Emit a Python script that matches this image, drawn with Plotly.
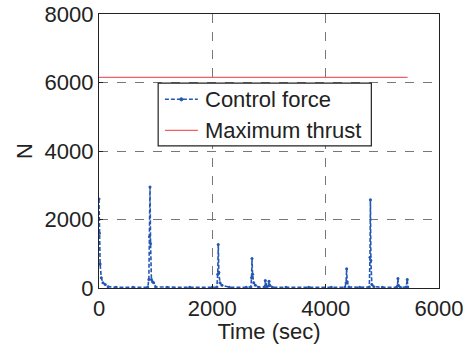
import plotly.graph_objects as go

# Control force time history (sec, N)
time_s = [0, 8, 20, 40, 70, 110, 160, 300, 600, 860, 880, 890, 900, 910, 925, 945, 965, 1000, 1200,
          1600, 2000, 2080, 2095, 2105, 2115, 2135, 2170, 2300, 2600, 2680, 2692, 2700, 2710,
          2730, 2760, 2820, 2920, 2935, 2945, 2960, 2990, 3000, 3012, 3060, 3300, 3700, 4100,
          4340, 4360, 4370, 4380, 4410, 4600, 4770, 4782, 4790, 4798, 4815, 4850, 5000, 5250,
          5268, 5275, 5285, 5320, 5420, 5440, 5448]
force_n = [2600, 1600, 700, 300, 150, 100, 40, 20, 20, 20, 250, 1500, 2950, 1300, 250, 180, 150, 30, 20,
           20, 20, 30, 400, 1270, 450, 150, 80, 20, 20, 30, 300, 860, 400,
           150, 80, 20, 30, 220, 120, 40, 60, 200, 80, 20, 20, 20, 20,
           20, 150, 560, 180, 30, 20, 30, 900, 2580, 800, 100, 40, 20, 20,
           60, 280, 70, 20, 30, 250, 30]

# Thruster limit
thrust_time = [0, 5445]
thrust_n = [6150, 6150]

x_ticks = [0, 2000, 4000, 6000]
y_ticks = [0, 2000, 4000, 6000, 8000]

series_names = ["Control force", "Maximum thrust"]
BLUE = "#2456b4"
RED = "#f06068"
INK = "#222"
FS = 22
SHORT_DASH = "4px,2px"

fig = go.Figure()
fig.add_trace(go.Scatter(
    x=time_s, y=force_n, name=series_names[0], mode="lines+markers",
    line=dict(color=BLUE, width=1.6, dash=SHORT_DASH),
    marker=dict(size=3, color=BLUE), showlegend=False,
))
fig.add_trace(go.Scatter(
    x=thrust_time, y=thrust_n, name=series_names[1], mode="lines",
    line=dict(color=RED, width=1.2), showlegend=False,
))

axis_common = dict(
    showline=True, linecolor=INK, linewidth=1.2, mirror=True,
    ticks="inside", ticklen=4, tickcolor=INK,
    showgrid=True, gridcolor="#777", griddash="dash", gridwidth=1,
    zeroline=False, tickfont=dict(size=FS, color=INK), automargin=False,
)

fig.update_xaxes(range=[0, 6000], tickvals=x_ticks, ticktext=[str(v) for v in x_ticks],
                 title=dict(text="Time (sec)", font=dict(size=FS, color=INK), standoff=0),
                 **axis_common)
fig.update_yaxes(range=[0, 8000], tickvals=y_ticks, ticktext=[str(v) for v in y_ticks],
                 title=dict(text="N", font=dict(size=FS, color=INK), standoff=5),
                 **axis_common)

# Boxed legend drawn in paper coordinates
box = dict(x0=0.174, x1=0.801, y0=0.519, y1=0.7475)
rows_y = [0.6886, 0.5756]
line_x = (0.1938, 0.2907)
text_x = 0.3054
fig.add_shape(type="rect", xref="paper", yref="paper", **box,
              line=dict(color=INK, width=1.2), fillcolor="white", layer="above")
fig.add_shape(type="line", xref="paper", yref="paper",
              x0=line_x[0], x1=line_x[1], y0=rows_y[0], y1=rows_y[0],
              line=dict(color=BLUE, width=1.6, dash=SHORT_DASH), layer="above")
mid_x = (line_x[0] + line_x[1]) / 2
dot_w, dot_h = 1.6 / 340.5, 1.6 / 274.5
fig.add_shape(type="circle", xref="paper", yref="paper",
              x0=mid_x - dot_w, x1=mid_x + dot_w, y0=rows_y[0] - dot_h, y1=rows_y[0] + dot_h,
              line=dict(color=BLUE, width=1), fillcolor=BLUE, layer="above")
fig.add_shape(type="line", xref="paper", yref="paper",
              x0=line_x[0], x1=line_x[1], y0=rows_y[1], y1=rows_y[1],
              line=dict(color=RED, width=1.2), layer="above")
for name, yy in zip(series_names, rows_y):
    fig.add_annotation(x=text_x, y=yy, xref="paper", yref="paper", text=name,
                       showarrow=False, xanchor="left", yanchor="middle",
                       font=dict(size=FS, color=INK))

fig.update_layout(
    width=467, height=344,
    margin=dict(l=99, r=27.5, t=14, b=55.5, autoexpand=False),
    paper_bgcolor="white", plot_bgcolor="white",
    font=dict(family="Liberation Sans, Arial, sans-serif", color=INK),
    showlegend=False,
)

fig.write_html("out.html")
